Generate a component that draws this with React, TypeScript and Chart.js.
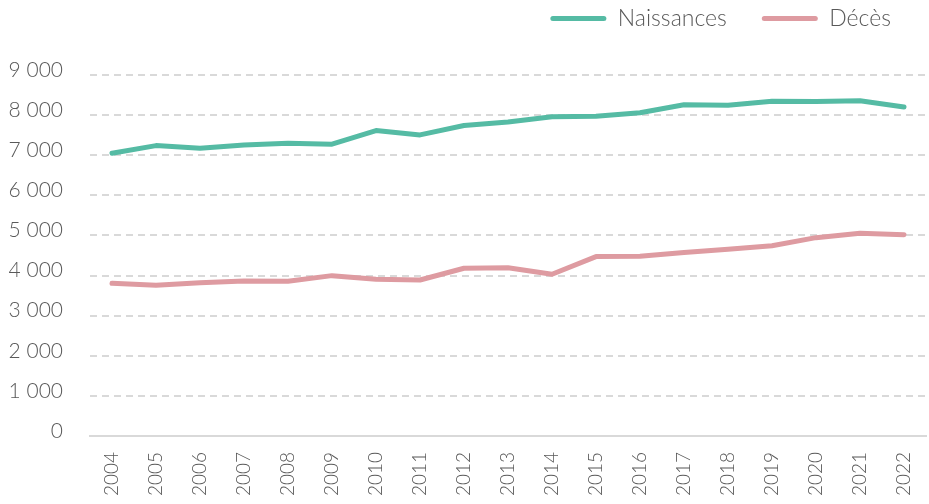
import React, { useEffect, useRef } from 'react';
import { Chart, registerables } from 'chart.js';

Chart.register(...registerables);

const years = ['2004', '2005', '2006', '2007', '2008', '2009', '2010', '2011', '2012', '2013', '2014', '2015', '2016', '2017', '2018', '2019', '2020', '2021', '2022'];
const naissances = [7050, 7240, 7175, 7257, 7300, 7275, 7615, 7506, 7740, 7830, 7960, 7970, 8060, 8260, 8245, 8345, 8340, 8360, 8200];
const deces = [3808, 3758, 3823, 3865, 3858, 3998, 3908, 3890, 4182, 4197, 4032, 4472, 4480, 4572, 4655, 4745, 4945, 5055, 5020];
const seriesLabels = ['Naissances', 'Décès'];
const yMin = 0;
const yMax = 9000;
const yStep = 1000;

const GREEN = '#55BBA4';
const PINK = '#DE9BA1';
const TEXT = '#595959';
const GRID = '#d9d9d9';
const FONT = 'Lato, "Open Sans", sans-serif';

const fmt = (v: number) => String(v).replace(/\B(?=(\d{3})+(?!\d))/g, ' ');

const legendSpacer = {
  id: 'legendSpacer',
  beforeInit(chart: any) {
    const legend = chart.legend;
    if (!legend || legend.__patched) return;
    const orig = legend.fit;
    legend.fit = function () {
      orig.call(this);
      this.height = 103;
    };
    legend.__patched = true;
  },
};

export default function App() {
  const ref = useRef<HTMLCanvasElement>(null);
  useEffect(() => {
    if (!ref.current) return;
    const chart = new Chart(ref.current, {
      type: 'line',
      data: {
        labels: years,
        datasets: [
          {
            label: seriesLabels[0],
            data: naissances,
            borderColor: GREEN,
            backgroundColor: GREEN,
            borderWidth: 5,
            pointRadius: 0,
            tension: 0,
            borderCapStyle: 'round',
            borderJoinStyle: 'round',
          },
          {
            label: seriesLabels[1],
            data: deces,
            borderColor: PINK,
            backgroundColor: PINK,
            borderWidth: 5,
            pointRadius: 0,
            tension: 0,
            borderCapStyle: 'round',
            borderJoinStyle: 'round',
          },
        ],
      },
      options: {
        animation: false,
        responsive: true,
        maintainAspectRatio: false,
        layout: { padding: { top: -28, right: 3, bottom: 0, left: 0 } },
        plugins: {
          tooltip: { enabled: false },
          legend: {
            position: 'top',
            align: 'end',
            labels: {
              boxWidth: 56,
              boxHeight: 5,
              padding: 35,
              color: TEXT,
              useBorderRadius: true,
              borderRadius: 2.5,
              font: { family: FONT, size: 23, weight: 300 as any },
              generateLabels: (c: any) =>
                (Chart.defaults.plugins.legend.labels.generateLabels as any)(c).map((l: any) => ({
                  ...l,
                  fillStyle: l.strokeStyle,
                  lineWidth: 0,
                  borderRadius: 2.5,
                })),
            },
          },
        },
        scales: {
          x: {
            offset: true,
            grid: { display: false, drawTicks: false },
            border: { display: true, color: GRID, width: 2 },
            ticks: {
              color: TEXT,
              font: { family: FONT, size: 19, weight: 300 as any },
              minRotation: 90,
              maxRotation: 90,
              padding: 16,
              autoSkip: false,
            },
            afterFit: (s: any) => {
              s.height = 68;
              s.paddingLeft = 0;
              s.paddingRight = 0;
            },
          },
          y: {
            min: yMin,
            max: yMax,
            grid: {
              drawTicks: false,
              lineWidth: 2,
              color: (ctx: any) => (ctx.tick && ctx.tick.value === 0 ? 'rgba(0,0,0,0)' : GRID),
            },
            border: { display: false, dash: [7, 5] },
            ticks: {
              stepSize: yStep,
              color: TEXT,
              padding: 27,
              labelOffset: -5,
              font: { family: FONT, size: 21, weight: 300 as any },
              callback: (v: any) => fmt(Number(v)),
            },
            afterFit: (s: any) => {
              s.width = 90;
            },
          },
        },
      },
      plugins: [legendSpacer],
    });
    return () => chart.destroy();
  }, []);
  return (
    <div style={{ position: 'absolute', left: 0, top: 0, width: 929, height: 504, background: '#fff' }}>
      <canvas ref={ref} />
    </div>
  );
}
